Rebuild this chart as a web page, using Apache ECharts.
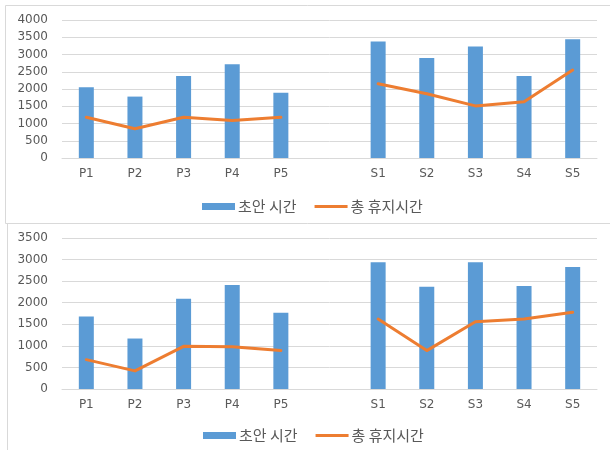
<!DOCTYPE html>
<html>
<head>
<meta charset="utf-8">
<script src="https://cdn.jsdelivr.net/npm/echarts@6/dist/echarts.min.js"></script>
<style>
  html, body { margin: 0; padding: 0; background: #ffffff; }
  #chart { width: 610px; height: 450px; }
</style>
</head>
<body>
<div id="chart"></div>
<script>
// Categories: P1–P5, an empty slot, then S1–S5
const categories = ['P1', 'P2', 'P3', 'P4', 'P5', '', 'S1', 'S2', 'S3', 'S4', 'S5'];

// Upper panel
const draftTimeA = [2050, 1780, 2380, 2720, 1890, null, 3380, 2900, 3230, 2380, 3440];
const pauseTimeA = [1180, 850, 1180, 1090, 1180, null, 2150, 1860, 1510, 1630, 2550];

// Lower panel
const draftTimeB = [1680, 1170, 2090, 2410, 1770, null, 2940, 2370, 2940, 2390, 2830];
const pauseTimeB = [680, 420, 990, 980, 890, null, 1620, 890, 1560, 1620, 1780];

const yMaxA = 4000;
const yMaxB = 3500;
const yStep = 500;

const NAME_BAR = '초안 시간';
const NAME_LINE = '총 휴지시간';

const BLUE = '#5b9bd5';
const ORANGE = '#ed7d31';
const GRID = '#d9d9d9';
const TEXT = '#595959';
const AXIS_FONT = 'DejaVu Sans, sans-serif';
const KR_FONT = "'Noto Sans CJK KR', sans-serif";

// thick horizontal stroke centred in the legend icon box (the two empty
// sub-paths pin the box to the full icon height so it is not stretched)
const LINE_ICON = 'path://M0,0L0,0ZM0,14L0,14ZM0,4L66,4L66,10L0,10Z';

function xAxisFor(gridIndex) {
  return {
    type: 'category',
    gridIndex: gridIndex,
    data: categories,
    axisTick: { show: false },
    axisLine: { lineStyle: { color: GRID, width: 1 } },
    axisLabel: { color: TEXT, fontFamily: AXIS_FONT, fontSize: 12, margin: 10 }
  };
}

function yAxisFor(gridIndex, max) {
  return {
    type: 'value',
    gridIndex: gridIndex,
    min: 0,
    max: max,
    interval: yStep,
    axisLine: { show: false },
    axisTick: { show: false },
    splitLine: { lineStyle: { color: GRID, width: 1 } },
    axisLabel: {
      color: TEXT, fontFamily: AXIS_FONT, fontSize: 12, margin: 14,
      formatter: function (v) { return String(v); }
    }
  };
}

function legendAt(left, top) {
  return {
    left: left,
    top: top,
    itemWidth: 33,
    itemHeight: 7,
    itemGap: 18,
    data: [
      { name: NAME_BAR, icon: 'rect', itemStyle: { color: BLUE } },
      { name: NAME_LINE, icon: LINE_ICON, itemStyle: { color: ORANGE, borderWidth: 0 } }
    ],
    textStyle: { color: TEXT, fontFamily: KR_FONT, fontSize: 15, padding: [0, 0, 0, -2] }
  };
}

function barSeries(axisIndex, values) {
  return {
    name: NAME_BAR,
    type: 'bar',
    xAxisIndex: axisIndex,
    yAxisIndex: axisIndex,
    data: values,
    barWidth: 15,
    itemStyle: { color: BLUE },
    emphasis: { disabled: true }
  };
}

function lineSeries(axisIndex, values) {
  return {
    name: NAME_LINE,
    type: 'line',
    xAxisIndex: axisIndex,
    yAxisIndex: axisIndex,
    data: values,
    symbol: 'none',
    connectNulls: false,
    lineStyle: { color: ORANGE, width: 3, cap: 'round', join: 'round' },
    itemStyle: { color: ORANGE },
    emphasis: { disabled: true }
  };
}

const chart = echarts.init(document.getElementById('chart'), null, { renderer: 'canvas' });

chart.setOption({
  animation: false,
  backgroundColor: '#ffffff',
  grid: [
    { left: 62, right: 13, top: 20, height: 138 },
    { left: 62, right: 13, top: 238, height: 151 }
  ],
  xAxis: [xAxisFor(0), xAxisFor(1)],
  yAxis: [yAxisFor(0, yMaxA), yAxisFor(1, yMaxB)],
  legend: [legendAt(197, 194), legendAt(198, 423)],
  series: [
    barSeries(0, draftTimeA),
    lineSeries(0, pauseTimeA),
    barSeries(1, draftTimeB),
    lineSeries(1, pauseTimeB)
  ],
  graphic: [
    // frame around the upper panel
    { type: 'line', silent: true, shape: { x1: 5.5, y1: 5.5, x2: 610, y2: 5.5 }, style: { stroke: GRID, lineWidth: 1 } },
    { type: 'line', silent: true, shape: { x1: 5.5, y1: 5.5, x2: 5.5, y2: 223.5 }, style: { stroke: GRID, lineWidth: 1 } },
    { type: 'line', silent: true, shape: { x1: 5.5, y1: 223.5, x2: 610, y2: 223.5 }, style: { stroke: GRID, lineWidth: 1 } },
    // left edge of the lower panel
    { type: 'line', silent: true, shape: { x1: 7.5, y1: 223.5, x2: 7.5, y2: 450 }, style: { stroke: GRID, lineWidth: 1 } }
  ]
});
</script>
</body>
</html>
